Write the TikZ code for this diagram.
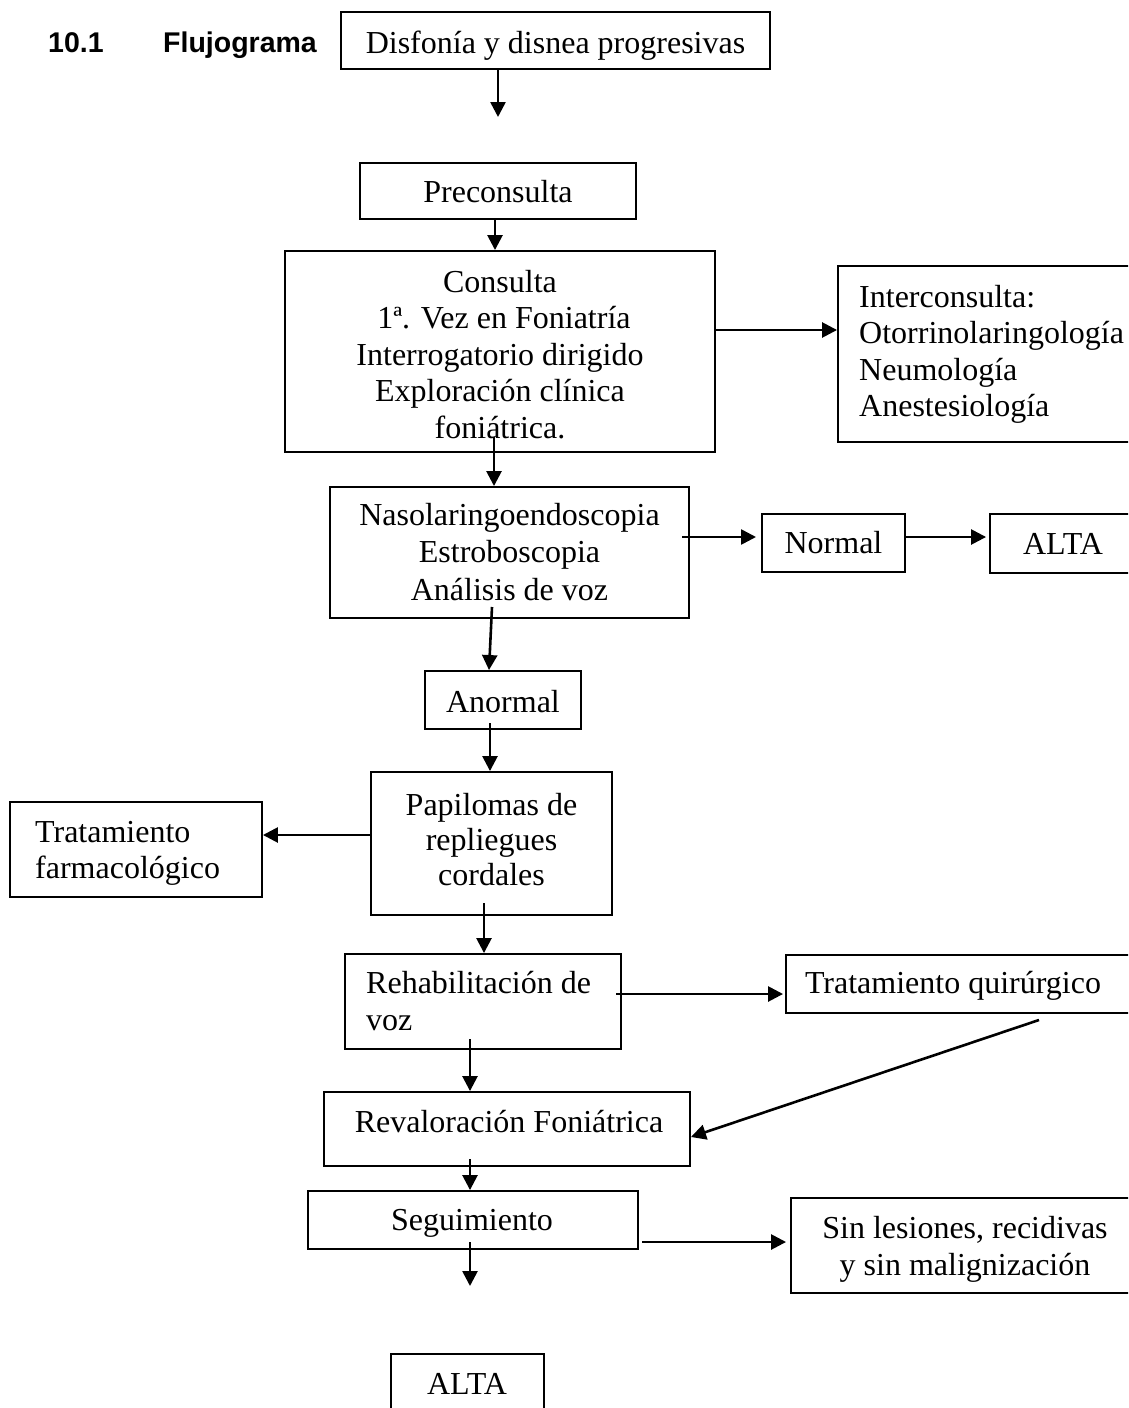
\documentclass[tikz,border=0pt]{standalone}
\usepackage{fontspec}
\setmainfont{Liberation Serif}
\newfontfamily\hdfont{Liberation Sans}
\usetikzlibrary{arrows.meta,fit}
\tikzset{
  box/.style={draw, line width=1.9pt, inner sep=0pt, rectangle},
  txt/.style={inner sep=0pt, font=\fontsize{32}{36.5}\selectfont},
  hd/.style={inner sep=0pt, font=\hdfont\bfseries\fontsize{28.5}{34}\selectfont},
  arr/.style={line width=2.6pt, -{Triangle[length=15pt,width=15pt]}},
}
\newcommand\ctab[1]{\begin{tabular}[t]{@{}c@{}}#1\end{tabular}}
\newcommand\ltab[1]{\begin{tabular}[t]{@{}l@{}}#1\end{tabular}}
\begin{document}
\begin{tikzpicture}[x=1pt,y=-1pt]
\useasboundingbox (0,0) rectangle (1128,1408);
\fill[white] (0,0) rectangle (1128,1408);
\clip (0,0) rectangle (1128,1408);

% title
\node[hd, anchor=base west] (h1) at (48,52) {10.1};
\node[hd, anchor=base west] (h2) at (163,52) {Flujograma};

% boxes
\node[box, fit={(341,12) (770,69)}] (dis) {};
\node[box, fit={(360,163) (636,219)}] (pre) {};
\node[box, fit={(285,251) (715,452)}] (con) {};
\node[box, fit={(838,266) (1140,442)}] (inter) {};
\node[box, fit={(330,487) (689,618)}] (naso) {};
\node[box, fit={(762,514) (905,572)}] (normal) {};
\node[box, fit={(990,514) (1136,573)}] (alta1) {};
\node[box, fit={(425,671) (581,729)}] (anormal) {};
\node[box, fit={(371,772) (612,915)}] (pap) {};
\node[box, fit={(10,802) (262,897)}] (trat) {};
\node[box, fit={(345,954) (621,1049)}] (rehab) {};
\node[box, fit={(786,955) (1134,1013)}] (quir) {};
\node[box, fit={(324,1092) (690,1166)}] (reval) {};
\node[box, fit={(308,1191) (638,1249)}] (seg) {};
\node[box, fit={(791,1198) (1139,1293)}] (sin) {};
\node[box, fit={(391,1354) (544,1440)}] (alta2) {};

% texts
\node[txt, anchor=base] (tdis) at (555.5,53) {Disfonía y disnea progresivas};
\node[txt, anchor=base] (tpre) at (498,202) {Preconsulta};
\node[txt, anchor=base] (tcon) at (500,292) {\ctab{Consulta\\\ 1ª. Vez en Foniatría\\Interrogatorio dirigido\\Exploración clínica\\foniátrica.}};
\node[txt, anchor=base west] (tinter) at (859,307) {\ltab{Interconsulta:\\Otorrinolaringología\\Neumología\\Anestesiología}};
\node[txt, anchor=base, font=\fontsize{32}{37.5}\selectfont] (tnaso) at (509.5,525) {\ctab{Nasolaringoendoscopia\\Estroboscopia\\Análisis de voz}};
\node[txt, anchor=base] (tnormal) at (833.5,553) {Normal};
\node[txt, anchor=base] (talta1) at (1063,554) {ALTA};
\node[txt, anchor=base] (tanormal) at (503,712) {Anormal};
\node[txt, anchor=base, font=\fontsize{32}{35}\selectfont] (tpap) at (491.5,815) {\ctab{Papilomas de\\repliegues\\cordales}};
\node[txt, anchor=base west] (ttrat) at (35,842) {\ltab{Tratamiento\\farmacológico}};
\node[txt, anchor=base west, font=\fontsize{32}{37}\selectfont] (trehab) at (366,993) {\ltab{Rehabilitación de\\voz}};
\node[txt, anchor=base] (tquir) at (953,993) {Tratamiento quirúrgico};
\node[txt, anchor=base] (treval) at (509,1132) {Revaloración Foniátrica};
\node[txt, anchor=base] (tseg) at (472,1230) {Seguimiento};
\node[txt, anchor=base, font=\fontsize{32}{37}\selectfont] (tsin) at (965,1238) {\ctab{Sin lesiones, recidivas\\y sin malignización}};
\node[txt, anchor=base] (talta2) at (467,1394) {ALTA};

% connector helper coordinates
\coordinate (e1) at (498,117);
\coordinate (x2) at (495,0);
\coordinate (y3) at (0,330);
\coordinate (s4) at (494,437);
\coordinate (s5) at (682,537);
\coordinate (e5) at (756,537);
\coordinate (y5) at (0,537);
\coordinate (s7) at (492,607);
\coordinate (x7) at (489,0);
\coordinate (s8) at (490,723);
\coordinate (y9) at (0,835);
\coordinate (s10) at (484,903);
\coordinate (s11) at (616,994);
\coordinate (s12) at (1039,1020);
\coordinate (y12) at (0,1137);
\coordinate (s13) at (470,1039);
\coordinate (s14) at (470,1159);
\coordinate (s15) at (470,1242);
\coordinate (e15) at (470,1286);
\coordinate (s16) at (642,1242);

% connectors
\draw[arr] (e1 |- dis.south) -- (e1);
\draw[arr] (x2 |- pre.south) -- (x2 |- con.north);
\draw[arr] (con.east |- y3) -- (inter.west |- y3);
\draw[arr] (s4) -- (s4 |- naso.north);
\draw[arr] (s5) -- (e5);
\draw[arr] (normal.east |- y5) -- ([xshift=-3pt]alta1.west |- y5);
\draw[arr] (s7) -- (x7 |- anormal.north);
\draw[arr] (s8) -- (s8 |- pap.north);
\draw[arr] (pap.west |- y9) -- (trat.east |- y9);
\draw[arr] (s10) -- (s10 |- rehab.north);
\draw[arr] (s11) -- ([xshift=-2pt]quir.west |- s11);
\draw[arr] (s12) -- (reval.east |- y12);
\draw[arr] (s13) -- (s13 |- reval.north);
\draw[arr] (s14) -- (s14 |- seg.north);
\draw[arr] (s15) -- (e15);
\draw[arr] (s16) -- ([xshift=-4pt]sin.west |- s16);
\end{tikzpicture}
\end{document}
